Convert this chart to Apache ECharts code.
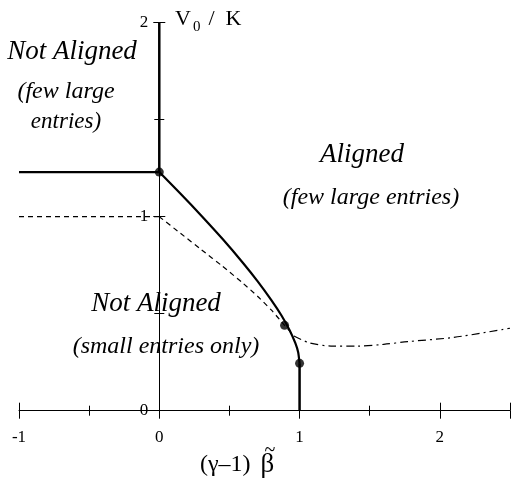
<!DOCTYPE html>
<html>
<head>
<meta charset="utf-8">
<script src="https://cdn.jsdelivr.net/npm/echarts@6/dist/echarts.min.js"></script>
<style>
  html, body { margin: 0; padding: 0; background: #fff; }
  #chart { width: 512px; height: 481px; }
</style>
</head>
<body>
<div id="chart"></div>
<script>
// phase boundaries
const upperFlat = [[-1, 1.23], [0, 1.23]];
const upperVertical = [[0, 1.23], [0, 2]];
const solidCurve = [[0, 1.23], [0.15, 1.12], [0.3, 1.005], [0.45, 0.886], [0.6, 0.759], [0.7, 0.668], [0.8, 0.569], [0.87, 0.492], [0.93, 0.414], [0.97, 0.348], [0.99, 0.301], [1, 0.244]];
const lowerVertical = [[1, 0.244], [1, 0]];
const dashedFlat = [[-1, 1], [0, 1]];
const dashedCurve = [[0, 1], [0.15, 0.915], [0.3, 0.83], [0.45, 0.745], [0.6, 0.655], [0.7, 0.59], [0.8, 0.518], [0.893, 0.44], [0.96, 0.385]];
const dashDotCurve = [[0.96, 0.385], [1.07, 0.35], [1.24, 0.333], [1.41, 0.333], [1.6, 0.342], [1.77, 0.356], [2.1, 0.378], [2.5, 0.425]];
const dots = [[0, 1.23], [0.893, 0.44], [1, 0.244]];

const xTicks = [-1, 0, 1, 2];
const yTicks = [0, 1, 2];

const serif = '"Liberation Serif", "DejaVu Serif", serif';

function lineSeries(data, width, type, smooth) {
    return {
        type: 'line',
        data: data,
        showSymbol: false,
        smooth: smooth || false,
        silent: true,
        lineStyle: { color: '#000', width: width, type: type || 'solid' },
        z: 3
    };
}

function label(text, x, y, size, italic) {
    return {
        type: 'text', x: x, y: y,
        style: {
            text: text, fontFamily: serif, fontStyle: italic ? 'italic' : 'normal',
            fontSize: size, fill: '#000', align: 'center', verticalAlign: 'middle'
        }
    };
}

const chart = echarts.init(document.getElementById('chart'), null, { renderer: 'canvas' });

// grid spans x -1..2.5 and y 0..2; the y axis is pushed in to x = 0
const gridLeft = 19, gridWidth = 491;
const yAxisShift = -(gridWidth / 3.5);

const xBase = {
    type: 'value',
    min: -1,
    max: 2.5,
    interval: 1,
    gridIndex: 0,
    position: 'bottom',
    splitLine: { show: false },
    axisLine: { onZero: false, lineStyle: { color: '#000', width: 1 } }
};
const yBase = {
    type: 'value',
    min: 0,
    max: 2,
    interval: 1,
    gridIndex: 0,
    position: 'left',
    offset: yAxisShift,
    splitLine: { show: false },
    axisLine: { onZero: false, lineStyle: { color: '#000', width: 1 } }
};

chart.setOption({
    animation: false,
    backgroundColor: '#fff',
    grid: { left: gridLeft, top: 22.7, width: gridWidth, height: 388, containLabel: false, outerBoundsMode: 'none' },
    xAxis: [
        Object.assign({}, xBase, {
            axisTick: { show: true, inside: false, length: 8, lineStyle: { color: '#000' } },
            minorTick: { show: true, splitNumber: 2, length: 5, lineStyle: { color: '#000' } },
            axisLabel: {
                margin: 18,
                color: '#000',
                fontFamily: serif,
                fontSize: 17,
                showMaxLabel: false,
                formatter: v => (xTicks.indexOf(v) >= 0 ? String(v) : '')
            }
        }),
        Object.assign({}, xBase, {
            axisLine: { show: false, onZero: false },
            axisTick: { show: true, inside: true, length: 8, lineStyle: { color: '#000' } },
            minorTick: { show: true, splitNumber: 2, length: 5, lineStyle: { color: '#000' } },
            axisLabel: { show: false }
        })
    ],
    yAxis: [
        Object.assign({}, yBase, {
            axisTick: { show: true, inside: false, length: 6, lineStyle: { color: '#000' } },
            minorTick: { show: true, splitNumber: 2, length: 5, lineStyle: { color: '#000' } },
            axisLabel: {
                margin: 11,
                color: '#000',
                fontFamily: serif,
                fontSize: 17,
                formatter: v => (yTicks.indexOf(v) >= 0 ? String(v) : '')
            }
        }),
        Object.assign({}, yBase, {
            axisLine: { show: false, onZero: false },
            axisTick: { show: true, inside: true, length: 6, lineStyle: { color: '#000' } },
            minorTick: { show: true, splitNumber: 2, length: 5, lineStyle: { color: '#000' } },
            axisLabel: { show: false }
        })
    ],
    series: [
        lineSeries(upperFlat, 2.2),
        lineSeries(upperVertical, 2.5),
        lineSeries(solidCurve, 2.2, 'solid', 0.2),
        lineSeries(lowerVertical, 2.5),
        lineSeries(dashedFlat, 1.2, [5, 4]),
        lineSeries(dashedCurve, 1.2, [5, 4], 0.2),
        lineSeries(dashDotCurve, 1.2, [8, 4, 2, 4], 0.3),
        {
            type: 'scatter',
            data: dots,
            symbol: 'circle',
            symbolSize: 9,
            silent: true,
            itemStyle: { color: '#000' },
            z: 5
        }
    ],
    graphic: [
        {
            type: 'text', x: 175, y: 19,
            style: {
                text: '{a|V}{s|0}{b|/}{a|K}',
                verticalAlign: 'middle',
                rich: {
                    a: { fontFamily: serif, fontSize: 22, fill: '#000' },
                    s: { fontFamily: serif, fontSize: 15, fill: '#000', padding: [16, 0, 0, 2] },
                    b: { fontFamily: serif, fontSize: 22, fill: '#000', padding: [0, 11, 0, 8] }
                }
            }
        },
        {
            type: 'text', x: 200, y: 465,
            style: {
                text: '{a|(\u03b3\u20131)}{b|\u03b2}',
                verticalAlign: 'middle',
                rich: {
                    a: { fontFamily: serif, fontSize: 24, fill: '#000' },
                    b: { fontFamily: serif, fontSize: 27, fill: '#000', padding: [0, 0, 0, 10] }
                }
            }
        },
        { type: 'text', x: 270, y: 451, style: { text: '~', fontFamily: serif, fontSize: 20, fill: '#000', align: 'center', verticalAlign: 'middle' } },
        label('Not Aligned', 72, 52, 27, true),
        label('(few large', 66, 92, 24, true),
        label('entries)', 66, 122, 23, true),
        label('Aligned', 362, 155, 27, true),
        label('(few large entries)', 371, 198, 24, true),
        label('Not Aligned', 156, 304, 27, true),
        label('(small entries only)', 166, 347, 24, true)
    ]
});
</script>
</body>
</html>
